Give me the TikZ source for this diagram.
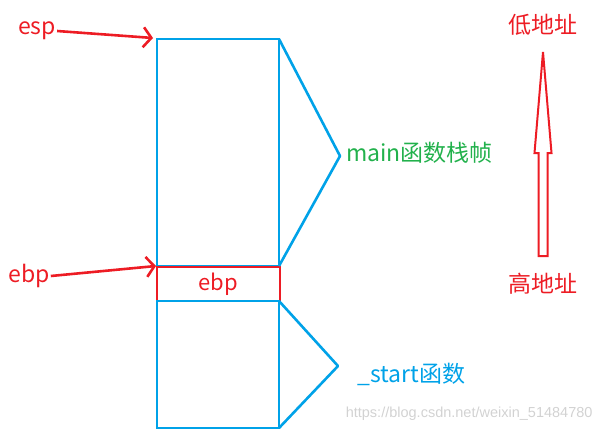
\documentclass[tikz,border=0pt]{standalone}
\usepackage{fontspec}
\usepackage{tikz}
\usetikzlibrary{arrows.meta,positioning,calc}
\newfontfamily\cjk{Noto Sans CJK SC}
\newfontfamily\wmfont{Liberation Sans}
\definecolor{pred}{HTML}{ED1C24}
\definecolor{pblue}{HTML}{00A2E8}
\definecolor{pgreen}{HTML}{22B14C}
\definecolor{wmgray}{HTML}{D2D2D2}

\begin{document}
\begin{tikzpicture}[x=1pt,y=-1pt,
  frame/.style={draw=pblue,line width=2.6pt,outer sep=0pt,minimum width=122pt},
  regbox/.style={draw=pred,line width=2.6pt,outer sep=0pt,minimum width=123pt,
    minimum height=34pt,text=pred,font=\cjk\fontsize{22}{26}\selectfont},
  lbl/.style={inner sep=1pt,font=\cjk\fontsize{23}{28}\selectfont},
  ptr/.style={-{Straight Barb[length=8pt,width=20pt]},line width=2.6pt,pred},
  brace/.style={pblue,line width=2.6pt,line join=round}]
\useasboundingbox (0,0) rectangle (605,434);
\node[frame,minimum height=227pt] (mainbox) at (218,152.5) {};
\node[regbox] (ebpbox) at (218.5,284) {ebp};
\node[frame,minimum height=127pt] (startbox) at (218,364.5) {};
\coordinate (maintip) at (340,156);
\coordinate (starttip) at (338,366);
\draw[brace] (mainbox.north east) -- (maintip) -- (mainbox.south east);
\draw[brace] (startbox.north east) -- (starttip) -- (startbox.south east);
\node[lbl,text=pred] (esp) at (37,31) {esp};
\node[lbl,text=pred] (ebp) at (29,276) {ebp};
\draw[ptr] (esp.east) -- ([xshift=-4pt,yshift=1pt]mainbox.north west);
\draw[ptr] (ebp.east) -- ([xshift=-1pt]mainbox.south west);
\node[lbl,text=pgreen,anchor=west] (mainlbl) at (345,153) {main函数栈帧};
\node[lbl,text=pblue,anchor=west] (startlbl) at (356,374) {\_start函数};
\node[lbl,text=pred] (low) at (543,25) {低地址};
\node[lbl,text=pred] (high) at (543,284) {高地址};
\coordinate (tip) at (543,52);
\draw[pred,line width=2pt,line join=miter]
  (tip) -- ++(8.5,101) -- ++(-4,0) -- ++(0,103) -- ++(-9,0) -- ++(0,-103)
  -- ++(-4,0) -- cycle;
\node[text=wmgray,font=\wmfont\fontsize{14.5}{17}\selectfont,anchor=east] (wm)
  at (596,414) {https://blog.csdn.net/weixin\_51484780};
\end{tikzpicture}
\end{document}
